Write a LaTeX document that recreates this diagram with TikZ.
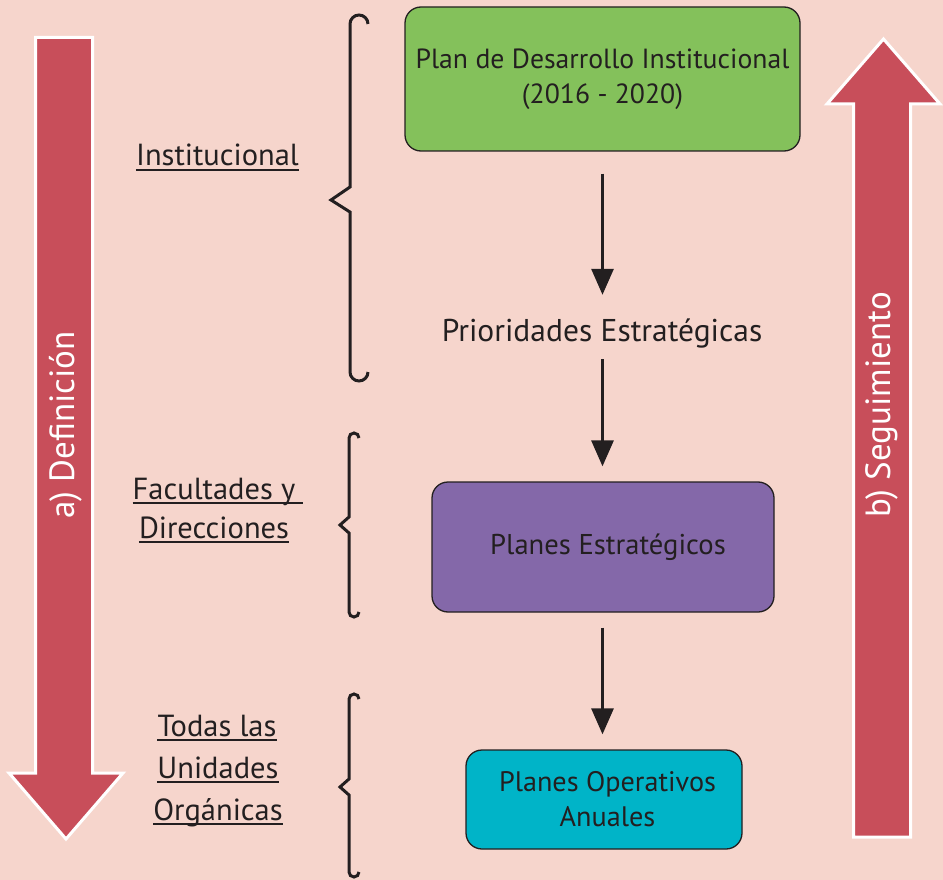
\documentclass[tikz,border=0pt]{standalone}
\usepackage{fontspec}
\setmainfont{PT Sans}
\usetikzlibrary{arrows.meta}
\definecolor{bgc}{HTML}{F6D5CC}
\definecolor{redc}{HTML}{C84E5A}
\definecolor{greenc}{HTML}{84C15B}
\definecolor{purplec}{HTML}{8468A9}
\definecolor{cyanc}{HTML}{00B4C8}
\definecolor{inkc}{HTML}{231F20}
\tikzset{
  txt/.style={font=\fontsize{28}{35}\selectfont, text=inkc, inner sep=0pt},
  lab/.style={txt, anchor=base, font=\fontsize{30.5}{35}\selectfont},
  box/.style={draw=inkc, line width=1.3pt, rounded corners=16pt, txt, align=center},
  conn/.style={draw=inkc, line width=3pt, -{Triangle[width=22pt,length=26pt]}},
  brace/.style={draw=inkc, line width=3pt, line join=miter},
  bigarrow/.style={fill=redc, draw=white, line width=3pt, line join=miter},
  ulline/.style={draw=inkc, line width=2pt},
  side/.style={font=\fontsize{35}{38}\selectfont, text=white, inner sep=0pt, rotate=90}
}
\begin{document}
\begin{tikzpicture}[x=1pt,y=-1pt]
\useasboundingbox (0,0) rectangle (943,880);
\fill[bgc] (0,0) rectangle (943,880);

% big arrows
\path[bigarrow] (35.5,37.5) -- (92.5,37.5) -- (92.5,773) -- (123,773) -- (66,839) -- (9,773) -- (35.5,773) -- cycle;
\path[bigarrow] (853.5,837) -- (910.5,837) -- (910.5,104) -- (940,104) -- (883.5,39) -- (827,104) -- (853.5,104) -- cycle;
\node[side] (defi) at (66,425) {a) Definición};
\node[side] (segu) at (882,405) {b) Seguimiento};

% boxes
\node[box, fill=greenc, minimum width=395pt, minimum height=144pt, font=\fontsize{27.7}{35}\selectfont] (pdi) at (602.5,79) {Plan de Desarrollo Institucional\\(2016 - 2020)};
\node[lab, font=\fontsize{31.5}{35}\selectfont, text height=20pt, text depth=6pt] (prio) at (602,341) {Prioridades Estratégicas};
\node[box, fill=purplec, minimum width=342pt, minimum height=130pt, font=\fontsize{28.6}{35}\selectfont] (pe) at (603,547) {\hspace*{10pt}Planes Estratégicos};
\node[box, fill=cyanc, minimum width=276pt, minimum height=99pt, font=\fontsize{28.2}{35}\selectfont] (poa) at (604,799.5) {\hspace*{7pt}Planes Operativos\\\hspace*{7pt}Anuales};

% connectors
\draw[conn, shorten <=22pt, shorten >=26pt] (pdi.south) -- (pdi.south |- prio.north);
\draw[conn, shorten <=12pt, shorten >=15pt] (prio.south -| pdi.south) -- (pdi.south |- pe.north);
\draw[conn, shorten <=15pt, shorten >=15pt] (pe.south -| pdi.south) -- (pdi.south |- poa.north);

% braces
\draw[brace] (368,24) arc[start angle=0, end angle=-180, radius=9] -- (350,187) -- (331,200) -- (350,212) -- (350,372) arc[start angle=180, end angle=0, radius=9];
\draw[brace] (359,438) arc[start angle=0, end angle=-180, radius=5] -- (349,517) -- (340,525) -- (349,533) -- (349,612) arc[start angle=180, end angle=0, radius=5];
\draw[brace] (359,699) arc[start angle=0, end angle=-180, radius=5] -- (349,779) -- (340,787) -- (349,795) -- (349,872) arc[start angle=180, end angle=0, radius=5];

% labels
\node[lab] (inst) at (217.5,166) {Institucional};
\node[lab] (fac) at (214,499) {Facultades y};
\node[lab] (dir) at (214,538) {Direcciones};
\node[lab] (tod) at (217,736) {Todas las};
\node[lab] (uni) at (218,778) {Unidades};
\node[lab] (org) at (218,820) {Orgánicas};
\foreach \n in {inst,dir,tod,uni,org}{
  \draw[ulline] ([yshift=-4pt]\n.base west) -- ([yshift=-4pt]\n.base east);
}
\draw[ulline] ([yshift=-4pt]fac.base west) -- ([xshift=8pt,yshift=-4pt]fac.base east);
\end{tikzpicture}
\end{document}
